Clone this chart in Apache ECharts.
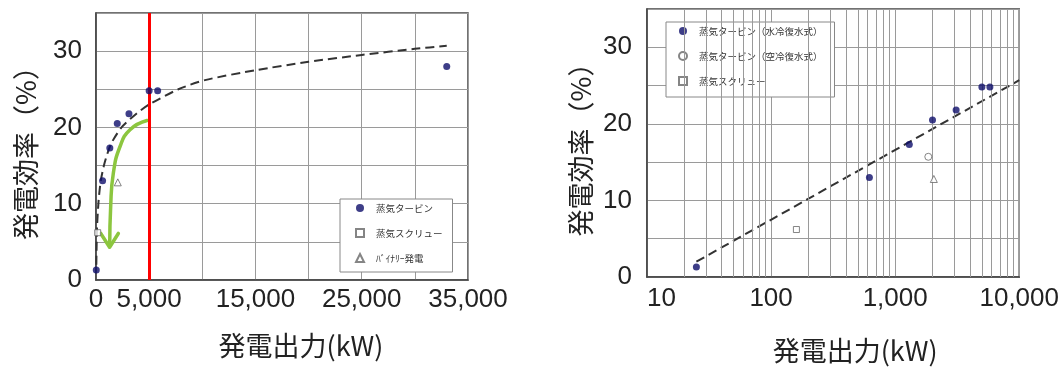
<!DOCTYPE html>
<html>
<head>
<meta charset="utf-8">
<script src="https://cdn.jsdelivr.net/npm/echarts@6/dist/echarts.min.js"></script>
<style>
  html, body { margin: 0; padding: 0; background: #fff; }
  #chart { width: 1062px; height: 372px; }
</style>
</head>
<body>
<div id="chart"></div>
<script>
// 発電出力(kW) と 発電効率(%) の実績値
const turbineKW   = [25, 620, 1300, 2000, 3100, 5000, 5800, 33000];
const turbineEff  = [1.3, 13.0, 17.3, 20.5, 21.8, 24.8, 24.8, 28.0];
const airCooledKW  = [1850];
const airCooledEff = [15.7];
const screwKW  = [160];
const screwEff = [6.2];
const binaryKW  = [2050];
const binaryEff = [12.8];

// 近似曲線（線形軸）
const trendKW  = [30, 100, 250, 450, 800, 1400, 2400, 3800, 5000, 7750, 10250, 15000, 20000, 25000, 30000, 33000];
const trendEff = [2.0, 7.0, 10.5, 13.0, 15.3, 17.8, 20.0, 21.8, 23.0, 25.0, 26.2, 27.5, 28.6, 29.5, 30.3, 30.7];
// 近似直線（対数軸）
const trendLogKW  = [25, 10000];
const trendLogEff = [2.0, 25.7];

// 5,000kW の境界
const boundaryKW = 5000;

// 矢印
const arrowKW  = [4800, 3200, 2260, 1630, 1380, 1290];
const arrowEff = [20.9, 19.7, 17.5, 14.0, 9.6, 4.5];
const arrowHeadKW  = [450, 1280, 2100];
const arrowHeadEff = [6.1, 4.3, 6.1];

// 目盛ラベル
const leftXTickLabels = [0, 5000, 15000, 25000, 35000];
const yTickLabels = [0, 10, 20, 30];
const logDecades = [10, 100, 1000];
const logSteps = [2, 3, 4, 5, 6, 7, 8, 9];

const NUM_FONT = '"Liberation Sans", Arial, "Noto Sans CJK JP", sans-serif';
const CJK_FONT = '"Noto Sans CJK JP", "Liberation Sans", sans-serif';
const INK = '#222';
const GRID_LINE = '#9a9a9a';
const NAVY = '#0e0e6a';
const HOLLOW = '#666';

const pairs = (xs, ys) => xs.map((x, i) => [x, ys[i]]);
const fmt = v => Number(v).toLocaleString('en-US');
const logMinorGrid = [];
logDecades.forEach(d => logSteps.forEach(s => logMinorGrid.push(d * s)));

const turbineRight = pairs(turbineKW, turbineEff).filter(p => p[0] <= 10000);

function yAxisOf(gridIndex, margin, nameGap) {
  return {
    type: 'value', gridIndex, min: 0, max: 35, interval: 5,
    axisLine: { show: true, lineStyle: { color: '#444', width: 1.5 } },
    axisTick: { show: false },
    splitLine: { show: true, lineStyle: { color: GRID_LINE, width: 1 } },
    axisLabel: {
      margin, fontSize: 26, color: INK, fontFamily: NUM_FONT,
      formatter: v => (yTickLabels.includes(v) ? String(v) : '')
    },
    name: '発電効率（%）', nameLocation: 'middle', nameRotate: 90, nameGap,
    nameTextStyle: { fontSize: 27, color: INK, fontFamily: CJK_FONT }
  };
}

function legendOf(names, left, top, padding, textPad) {
  return {
    data: names, orient: 'vertical', left, top,
    itemWidth: 8, itemHeight: 8, itemGap: 13, padding,
    backgroundColor: '#fff', borderColor: '#888', borderWidth: 1,
    selectedMode: false,
    textStyle: { fontSize: 9.5, lineHeight: 12, color: '#333', fontFamily: CJK_FONT, padding: [0, 0, 0, textPad] }
  };
}

const dashed = { color: '#333', width: 2, type: [9, 5] };
const arrowStyle = { color: '#8cc63f', width: 3.5, type: 'solid', cap: 'round', join: 'round' };
const hollow = { color: '#fff', borderColor: HOLLOW, borderWidth: 1 };

const option = {
  animation: false,
  backgroundColor: '#fff',
  grid: [
    { left: 96, top: 13, width: 372, height: 267, show: true, borderColor: '#444', borderWidth: 1.5 },
    { left: 647, top: 9, width: 373, height: 268, show: true, borderColor: '#444', borderWidth: 1.5 }
  ],
  xAxis: [
    {
      type: 'value', gridIndex: 0, min: 0, max: 35000, interval: 5000,
      axisLine: { show: true, lineStyle: { color: '#444', width: 1.5 } },
      axisTick: { show: false },
      splitLine: { show: true, lineStyle: { color: GRID_LINE, width: 1 } },
      axisLabel: {
        margin: 7, fontSize: 26, color: INK, fontFamily: NUM_FONT,
        formatter: v => (leftXTickLabels.includes(v) ? fmt(v) : '')
      },
      name: '発電出力(kW)', nameLocation: 'middle', nameGap: 52,
      nameTextStyle: { fontSize: 27, color: INK, fontFamily: CJK_FONT, padding: [0, 0, 0, 38] }
    },
    {
      type: 'log', logBase: 10, gridIndex: 1, min: 10, max: 10000,
      axisLine: { show: true, lineStyle: { color: '#444', width: 1.5 } },
      axisTick: { show: false },
      splitLine: { show: true, lineStyle: { color: GRID_LINE, width: 1 } },
      axisLabel: {
        margin: 9, fontSize: 26, color: INK, fontFamily: NUM_FONT,
        alignMinLabel: 'left',
        formatter: v => fmt(v)
      },
      name: '発電出力(kW)', nameLocation: 'middle', nameGap: 60,
      nameTextStyle: { fontSize: 27, color: INK, fontFamily: CJK_FONT, padding: [0, 0, 0, 44] }
    }
  ],
  yAxis: [yAxisOf(0, 14, 57), yAxisOf(1, 15, 53)],
  legend: [
    legendOf(['蒸気タービン', '蒸気スクリュー', 'ﾊﾞｲﾅﾘｰ発電'], 340, 199, [3, 10, 8, 15], 7),
    legendOf(['蒸気タービン（水冷復水式）', '蒸気タービン（空冷復水式）', '蒸気スクリュー'], 666, 22, [3, 12, 10, 12], 7)
  ],
  series: [
    // 左：線形軸
    {
      name: 'trend', type: 'line', xAxisIndex: 0, yAxisIndex: 0, silent: true,
      data: pairs(trendKW, trendEff), smooth: 0.25,
      showSymbol: false, lineStyle: dashed, z: 2
    },
    {
      name: 'boundary', type: 'line', xAxisIndex: 0, yAxisIndex: 0, data: [], z: 3,
      markLine: {
        silent: true, symbol: 'none', label: { show: false },
        lineStyle: { color: '#ff0000', width: 3, type: 'solid' },
        data: [{ xAxis: boundaryKW }]
      }
    },
    {
      name: 'arrow', type: 'line', xAxisIndex: 0, yAxisIndex: 0, silent: true,
      data: pairs(arrowKW, arrowEff), smooth: 0.5, showSymbol: false, lineStyle: arrowStyle, z: 3
    },
    {
      name: 'arrowHead', type: 'line', xAxisIndex: 0, yAxisIndex: 0, silent: true,
      data: pairs(arrowHeadKW, arrowHeadEff), showSymbol: false, lineStyle: arrowStyle, z: 3
    },
    {
      name: '蒸気タービン', type: 'scatter', xAxisIndex: 0, yAxisIndex: 0,
      data: pairs(turbineKW, turbineEff), symbol: 'circle', symbolSize: 7,
      itemStyle: { color: NAVY }, z: 5
    },
    {
      name: '蒸気スクリュー', type: 'scatter', xAxisIndex: 0, yAxisIndex: 0,
      data: pairs(screwKW, screwEff), symbol: 'rect', symbolSize: 6, itemStyle: hollow, z: 5
    },
    {
      name: 'ﾊﾞｲﾅﾘｰ発電', type: 'scatter', xAxisIndex: 0, yAxisIndex: 0,
      data: pairs(binaryKW, binaryEff), symbol: 'triangle', symbolSize: 7, itemStyle: hollow, z: 5
    },
    // 右：対数軸
    {
      name: 'logMinor', type: 'line', xAxisIndex: 1, yAxisIndex: 1, data: [], z: 1,
      markLine: {
        silent: true, symbol: 'none', label: { show: false },
        lineStyle: { color: GRID_LINE, width: 1, type: 'solid' },
        data: logMinorGrid.map(v => ({ xAxis: v }))
      }
    },
    {
      name: 'trendLog', type: 'line', xAxisIndex: 1, yAxisIndex: 1, silent: true,
      data: pairs(trendLogKW, trendLogEff), showSymbol: false, lineStyle: dashed, z: 2
    },
    {
      name: '蒸気タービン（水冷復水式）', type: 'scatter', xAxisIndex: 1, yAxisIndex: 1,
      data: turbineRight, symbol: 'circle', symbolSize: 7, itemStyle: { color: NAVY }, z: 5
    },
    {
      name: '蒸気タービン（空冷復水式）', type: 'scatter', xAxisIndex: 1, yAxisIndex: 1,
      data: pairs(airCooledKW, airCooledEff), symbol: 'circle', symbolSize: 7, itemStyle: hollow, z: 5
    },
    {
      name: '蒸気スクリュー', type: 'scatter', xAxisIndex: 1, yAxisIndex: 1,
      data: pairs(screwKW, screwEff), symbol: 'rect', symbolSize: 6, itemStyle: hollow, z: 5
    },
    {
      name: 'ﾊﾞｲﾅﾘｰ発電', type: 'scatter', xAxisIndex: 1, yAxisIndex: 1,
      data: pairs(binaryKW, binaryEff), symbol: 'triangle', symbolSize: 7, itemStyle: hollow, z: 5
    }
  ]
};

const chart = echarts.init(document.getElementById('chart'), null, { renderer: 'canvas' });
chart.setOption(option);
</script>
</body>
</html>
